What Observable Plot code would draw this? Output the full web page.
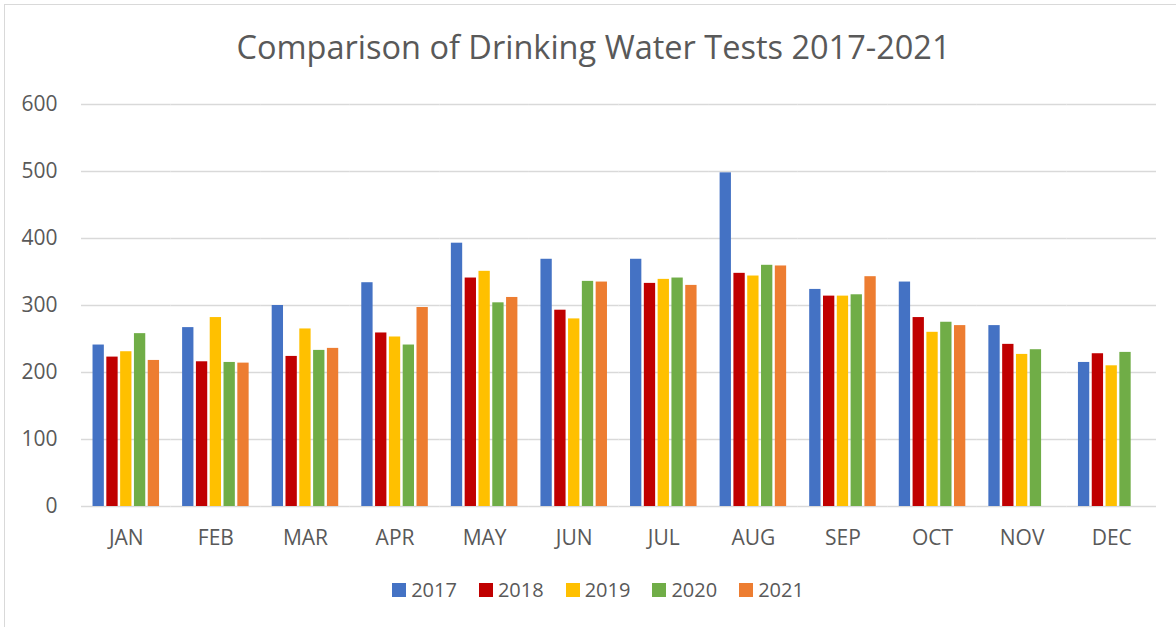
<!DOCTYPE html>
<html>
<head>
<meta charset="utf-8">
<script src="https://cdn.jsdelivr.net/npm/d3@7"></script>
<script src="https://cdn.jsdelivr.net/npm/@observablehq/plot@0.6"></script>
<style>
  html, body { margin: 0; padding: 0; background: #fff; overflow: hidden; }
  body { width: 1176px; height: 627px; position: relative; font-family: "Open Sans", sans-serif; }
  #frame { position: absolute; left: 4px; top: 4px; width: 1300px; height: 800px; border: 1.5px solid #d9d9d9; box-sizing: border-box; }
  #title { position: absolute; left: 0; top: 31px; width: 1187px; text-align: center; font-size: 32.5px; line-height: 32.5px; color: #595959; white-space: nowrap; }
  #chart { position: absolute; left: 0; top: 90px; }
  #legend { position: absolute; left: 0; top: 580px; width: 1196px; text-align: center; font-size: 20px; line-height: 20px; color: #595959; white-space: nowrap; }
  .item { display: inline-block; margin: 0 11px; }
  .sw { display: inline-block; width: 14px; height: 14px; margin-right: 5px; vertical-align: baseline; }
</style>
</head>
<body>
<div id="frame"></div>
<div id="title">Comparison of Drinking Water Tests 2017-2021</div>
<div id="chart"></div>
<div id="legend"></div>
<script>
const months = ["JAN","FEB","MAR","APR","MAY","JUN","JUL","AUG","SEP","OCT","NOV","DEC"];
const years = ["2017","2018","2019","2020","2021"];
const colors = ["#4472C4","#C00000","#FFC000","#70AD47","#ED7D31"];
const v2017 = [241, 267, 300, 334, 393, 369, 369, 498, 324, 335, 270, 215];
const v2018 = [223, 216, 224, 259, 341, 293, 333, 348, 314, 282, 242, 228];
const v2019 = [231, 282, 265, 253, 351, 280, 339, 344, 314, 260, 227, 210];
const v2020 = [258, 215, 233, 241, 304, 336, 341, 360, 316, 275, 234, 230];
const v2021 = [218, 214, 236, 297, 312, 335, 330, 359, 343, 270, null, null];
const yTicks = [0, 100, 200, 300, 400, 500, 600];

const series = [v2017, v2018, v2019, v2020, v2021];
const data = [];
years.forEach((yr, i) => {
  months.forEach((m, j) => {
    const v = series[i][j];
    if (v != null) data.push({month: m, year: yr, value: v});
  });
});

const chart = Plot.plot({
  width: 1176,
  height: 466,
  marginLeft: 81,
  marginRight: 20,
  marginTop: 14,
  marginBottom: 50,
  style: {fontFamily: "Open Sans", fontSize: "21px", color: "#595959", background: "transparent"},
  fx: {domain: months, padding: 0, round: false, label: null, axis: "bottom", tickSize: 0, tickPadding: 24},
  x: {domain: years, paddingInner: 0.18, paddingOuter: 0.835, round: false, axis: null},
  y: {domain: [0, 600], ticks: yTicks, label: null, tickSize: 0, tickPadding: 24},
  color: {domain: years, range: colors},
  marks: [
    Plot.ruleY(yTicks, {stroke: "#d9d9d9", strokeWidth: 1.5}),
    Plot.barY(data, {fx: "month", x: "year", y: "value", fill: "year"})
  ]
});
document.getElementById("chart").appendChild(chart);

const legend = document.getElementById("legend");
years.forEach((yr, i) => {
  const it = document.createElement("span");
  it.className = "item";
  const sw = document.createElement("span");
  sw.className = "sw";
  sw.style.background = colors[i];
  it.appendChild(sw);
  it.appendChild(document.createTextNode(yr));
  legend.appendChild(it);
});
</script>
</body>
</html>
